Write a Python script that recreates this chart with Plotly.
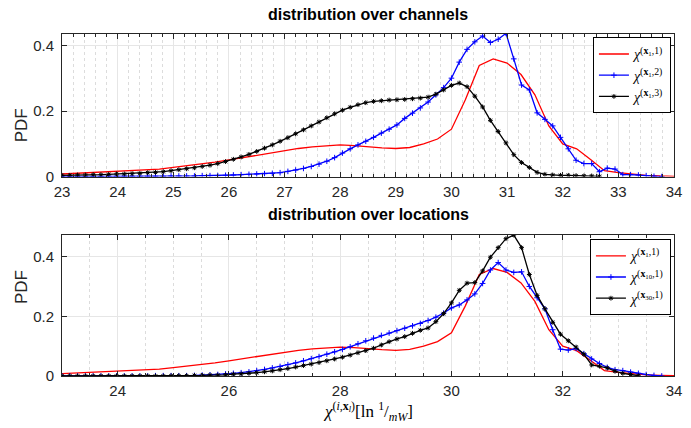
import plotly.graph_objects as go

# ---------------- data ----------------
# common bin centres of the histogram-type series
X_BINS = [23.00, 23.14, 23.28, 23.42, 23.56, 23.70, 23.84, 23.98, 24.12, 24.26,
          24.40, 24.54, 24.68, 24.82, 24.96, 25.10, 25.24, 25.38, 25.52, 25.66,
          25.80, 25.94, 26.08, 26.22, 26.36, 26.50, 26.64, 26.78, 26.92, 27.06,
          27.20, 27.34, 27.48, 27.62, 27.76, 27.90, 28.04, 28.18, 28.32, 28.46,
          28.60, 28.74, 28.88, 29.02, 29.16, 29.30, 29.44, 29.58, 29.72, 29.86,
          30.00, 30.14, 30.28, 30.42, 30.56, 30.70, 30.84, 30.98, 31.12, 31.26,
          31.40, 31.54, 31.68, 31.82, 31.96, 32.10, 32.24, 32.38, 32.52, 32.66,
          32.80, 32.94, 33.08, 33.22, 33.36, 33.50, 33.64, 33.78]

# smooth reference density chi^(x1,1) (red, shown in both panels)
X_RED = [23.00, 23.25, 23.50, 23.75, 24.00, 24.25, 24.50, 24.75, 25.00, 25.25,
         25.50, 25.75, 26.00, 26.25, 26.50, 26.75, 27.00, 27.25, 27.50, 27.75,
         28.00, 28.25, 28.50, 28.75, 29.00, 29.25, 29.50, 29.75, 30.00, 30.25,
         30.50, 30.75, 31.00, 31.25, 31.50, 31.75, 32.00, 32.25, 32.50, 32.75,
         33.00, 33.25, 33.50, 33.75, 34.00]
RED = [0.008, 0.010, 0.011, 0.013, 0.015, 0.017, 0.020, 0.023, 0.028, 0.033,
       0.038, 0.044, 0.051, 0.058, 0.066, 0.073, 0.080, 0.086, 0.091, 0.095,
       0.097, 0.095, 0.091, 0.088, 0.086, 0.089, 0.100, 0.115, 0.145, 0.235,
       0.340, 0.360, 0.347, 0.312, 0.250, 0.155, 0.100, 0.085, 0.052, 0.018,
       0.012, 0.007, 0.004, 0.002, 0.001]

# top panel: distribution over channels
CH2 = [0.000, 0.000, 0.000, 0.000, 0.000, 0.000, 0.001, 0.001, 0.001, 0.001,
       0.001, 0.001, 0.001, 0.001, 0.002, 0.002, 0.002, 0.002, 0.003, 0.003,
       0.003, 0.004, 0.005, 0.006, 0.007, 0.008, 0.009, 0.010, 0.012, 0.016,
       0.020, 0.025, 0.031, 0.038, 0.047, 0.058, 0.072, 0.085, 0.097, 0.108,
       0.120, 0.133, 0.145, 0.158, 0.178, 0.194, 0.210, 0.228, 0.250, 0.272,
       0.301, 0.350, 0.389, 0.412, 0.430, 0.410, 0.420, 0.438, 0.360, 0.280,
       0.265, 0.195, 0.175, 0.155, 0.120, 0.085, 0.050, 0.040, 0.040, 0.015,
       0.026, 0.023, 0.006, 0.006, 0.005, 0.003, 0.001, 0.000]
CH3 = [0.004, 0.004, 0.005, 0.005, 0.006, 0.006, 0.007, 0.008, 0.008, 0.009,
       0.010, 0.012, 0.013, 0.015, 0.018, 0.021, 0.024, 0.027, 0.031, 0.035,
       0.040, 0.046, 0.053, 0.060, 0.068, 0.077, 0.087, 0.097, 0.108, 0.119,
       0.131, 0.143, 0.155, 0.167, 0.180, 0.192, 0.203, 0.212, 0.220, 0.226,
       0.230, 0.232, 0.234, 0.235, 0.236, 0.238, 0.240, 0.243, 0.252, 0.265,
       0.279, 0.286, 0.275, 0.246, 0.213, 0.172, 0.138, 0.103, 0.067, 0.043,
       0.028, 0.013, 0.007, 0.005, 0.004, 0.004, 0.003, 0.002, 0.002, 0.001]

# bottom panel: distribution over locations
LOC10 = [0.000, 0.000, 0.000, 0.000, 0.000, 0.000, 0.000, 0.000, 0.000, 0.000,
         0.000, 0.000, 0.001, 0.001, 0.001, 0.001, 0.001, 0.002, 0.003, 0.004,
         0.005, 0.007, 0.009, 0.011, 0.014, 0.018, 0.022, 0.027, 0.032, 0.038,
         0.044, 0.051, 0.058, 0.065, 0.073, 0.081, 0.089, 0.098, 0.108, 0.118,
         0.127, 0.136, 0.144, 0.152, 0.160, 0.168, 0.176, 0.186, 0.197, 0.211,
         0.228, 0.238, 0.255, 0.275, 0.310, 0.355, 0.380, 0.355, 0.347, 0.349,
         0.300, 0.262, 0.225, 0.155, 0.090, 0.087, 0.092, 0.075, 0.057, 0.042,
         0.029, 0.021, 0.018, 0.013, 0.009, 0.005, 0.002, 0.000]
LOC30 = [0.000, 0.000, 0.000, 0.000, 0.000, 0.000, 0.000, 0.000, 0.000, 0.000,
         0.000, 0.000, 0.000, 0.000, 0.001, 0.001, 0.001, 0.002, 0.002, 0.003,
         0.003, 0.004, 0.006, 0.007, 0.009, 0.011, 0.014, 0.017, 0.021, 0.025,
         0.030, 0.035, 0.040, 0.045, 0.051, 0.057, 0.063, 0.070, 0.078, 0.085,
         0.093, 0.104, 0.115, 0.124, 0.132, 0.143, 0.153, 0.161, 0.182, 0.209,
         0.245, 0.287, 0.311, 0.313, 0.352, 0.398, 0.430, 0.460, 0.472, 0.430,
         0.340, 0.270, 0.225, 0.180, 0.140, 0.118, 0.097, 0.073, 0.037, 0.033,
         0.027, 0.016, 0.009, 0.005, 0.001]

X_TICKS_TOP = [23, 24, 25, 26, 27, 28, 29, 30, 31, 32, 33, 34]
X_TICKS_BOT = [24, 26, 28, 30, 32, 34]
Y_TICKS = [0, 0.2, 0.4]
Y_TICKTEXT = ["0", "0.2", "0.4"]

NAMES_TOP = ["<i>χ</i><sup>(<b>x</b><sub>1</sub>,1)</sup>",
             "<i>χ</i><sup>(<b>x</b><sub>1</sub>,2)</sup>",
             "<i>χ</i><sup>(<b>x</b><sub>1</sub>,3)</sup>"]
NAMES_BOT = ["<i>χ</i><sup>(<b>x</b><sub>1</sub>,1)</sup>",
             "<i>χ</i><sup>(<b>x</b><sub>10</sub>,1)</sup>",
             "<i>χ</i><sup>(<b>x</b><sub>30</sub>,1)</sup>"]

# ---------------- figure ----------------
RED_C = "#ff0000"
BLUE_C = "#0000ff"
BLACK_C = "#000000"
AX_C = "#262626"
SANS = "Liberation Sans, Arial, sans-serif"
SERIF = "Liberation Serif, DejaVu Serif, serif"

fig = go.Figure()

def add_series(x, y, name, color, symbol, size, xa, ya, legend):
    if symbol is None:
        kw = dict(mode="lines", line=dict(color=color, width=1.3))
    else:
        kw = dict(mode="lines+markers", line=dict(color=color, width=1.3),
                  marker=dict(symbol=symbol, size=size, color=color,
                              line=dict(color=color, width=1)))
    fig.add_trace(go.Scatter(x=x, y=y, name=name, xaxis=xa, yaxis=ya,
                             legend=legend, **kw))

# top
add_series(X_RED, RED, NAMES_TOP[0], RED_C, None, 0, "x", "y", "legend")
add_series(X_BINS[:len(CH2)], CH2, NAMES_TOP[1], BLUE_C, "cross-thin-open", 4, "x", "y", "legend")
add_series(X_BINS[:len(CH3)], CH3, NAMES_TOP[2], BLACK_C, "asterisk-open", 4, "x", "y", "legend")
# bottom
add_series(X_RED, RED, NAMES_BOT[0], RED_C, None, 0, "x2", "y2", "legend2")
add_series(X_BINS[:len(LOC10)], LOC10, NAMES_BOT[1], BLUE_C, "cross-thin-open", 4, "x2", "y2", "legend2")
add_series(X_BINS[:len(LOC30)], LOC30, NAMES_BOT[2], BLACK_C, "asterisk-open", 4, "x2", "y2", "legend2")

grid_major = "#e6e6e6"
grid_minor = "#dcdcdc"

def xaxis_cfg(rng, ticks, minor_dtick, anchor):
    return dict(range=rng, tickvals=ticks, ticktext=[str(t) for t in ticks],
                showline=True, linecolor=AX_C, linewidth=1, mirror="allticks",
                ticks="inside", ticklen=5, tickcolor=AX_C,
                showgrid=True, gridcolor=grid_major, gridwidth=1,
                zeroline=False, anchor=anchor, ticklabelstandoff=1,
                tickfont=dict(family=SANS, size=15, color=AX_C),
                minor=dict(dtick=minor_dtick, tick0=23, ticks="inside", ticklen=3,
                           tickcolor=AX_C, showgrid=True, gridcolor=grid_minor,
                           griddash="dot", gridwidth=1))

def yaxis_cfg(rng, domain, anchor):
    return dict(range=rng, domain=domain, tickvals=Y_TICKS, ticktext=Y_TICKTEXT,
                showline=True, linecolor=AX_C, linewidth=1, mirror="allticks",
                ticks="inside", ticklen=5, tickcolor=AX_C,
                showgrid=True, gridcolor=grid_major, gridwidth=1,
                zeroline=False, anchor=anchor, ticklabelstandoff=4,
                tickfont=dict(family=SANS, size=15, color=AX_C))

legend_common = dict(bgcolor="white", bordercolor="#000000", borderwidth=1,
                     font=dict(family=SERIF, size=14, color="#000000"),
                     xanchor="right", yanchor="top", tracegroupgap=0,
                     itemwidth=30)

fig.update_layout(
    width=691, height=428,
    margin=dict(l=62, r=9, t=34, b=52),
    plot_bgcolor="white", paper_bgcolor="white",
    xaxis=xaxis_cfg([23, 34], X_TICKS_TOP, 0.2, "y"),
    yaxis=yaxis_cfg([0, 0.436], [0.583, 1.0], "x"),
    xaxis2=xaxis_cfg([23, 34], X_TICKS_BOT, 0.5, "y2"),
    yaxis2=yaxis_cfg([0, 0.472], [0.0, 0.412], "x2"),
    legend=dict(x=0.995, y=0.99, **legend_common),
    legend2=dict(x=0.995, y=0.40, **legend_common),
    showlegend=True,
    annotations=[
        dict(text="<b>distribution over channels</b>", x=0.5, y=1.058,
             xref="paper", yref="paper", showarrow=False, yanchor="middle",
             font=dict(family=SANS, size=16, color="#000000")),
        dict(text="<b>distribution over locations</b>", x=0.5, y=0.471,
             xref="paper", yref="paper", showarrow=False, yanchor="middle",
             font=dict(family=SANS, size=16, color="#000000")),
        dict(text="PDF", x=-0.085, y=0.79, xref="paper", yref="paper",
             showarrow=False, textangle=-90,
             font=dict(family=SANS, size=17, color=AX_C)),
        dict(text="PDF", x=-0.085, y=0.206, xref="paper", yref="paper",
             showarrow=False, textangle=-90,
             font=dict(family=SANS, size=17, color=AX_C)),
        dict(text="<i>χ</i><sup>(<i>i</i>,<b>x</b><sub><i>l</i></sub>)</sup>[ln <sup>1</sup>/<sub><i>mW</i></sub>]",
             x=0.5, y=-0.105, xref="paper", yref="paper", showarrow=False,
             yanchor="middle", font=dict(family=SERIF, size=17, color="#000000")),
    ],
)

fig.write_html("out.html")
